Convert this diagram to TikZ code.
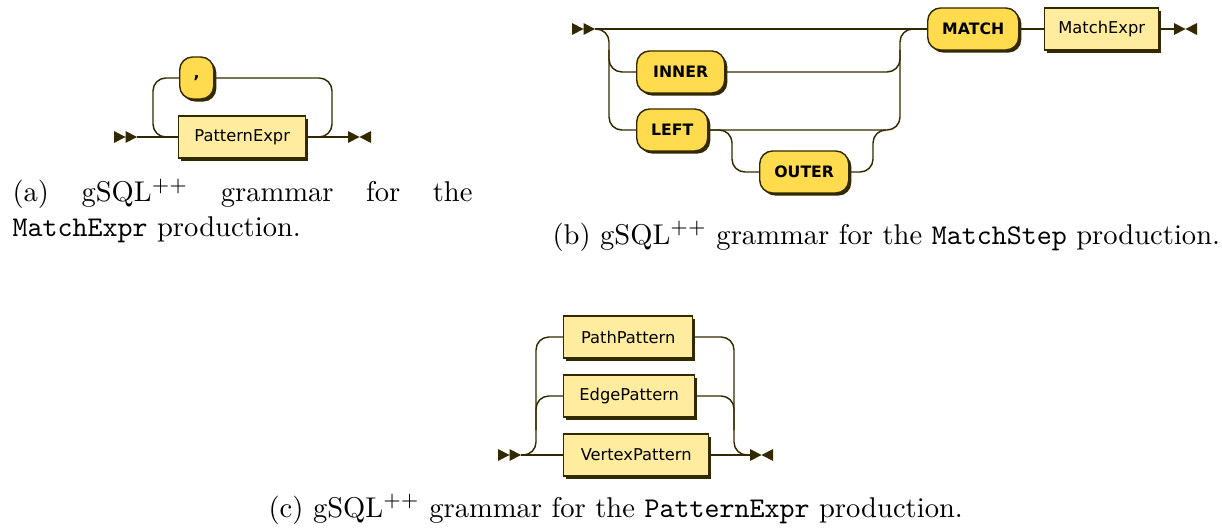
\documentclass[tikz,border=0pt]{standalone}
\usepackage{fontspec}
\newfontfamily\rrfont{DejaVu Sans}
\usetikzlibrary{shadows}

\definecolor{rrline}{HTML}{332900}
\definecolor{rrterm}{HTML}{FFDB4D}
\definecolor{rrnonterm}{HTML}{FFEC9E}

\tikzset{
  track/.style={draw=rrline, line width=0.5pt, rounded corners=4.5pt},
  rrbox/.style={draw=rrline, line width=0.5pt, minimum height=14.7pt, inner sep=0pt,
    anchor=west, font=\rrfont\fontsize{5.7}{6}\selectfont,
    drop shadow={shadow xshift=0.9pt, shadow yshift=-0.9pt, fill=rrline, opacity=1}},
  nonterm/.style={rrbox, fill=rrnonterm},
  term/.style={rrbox, fill=rrterm, rounded corners=4.5pt,
    font=\rrfont\bfseries\fontsize{5.5}{6}\selectfont},
  boxw/.style={minimum width=#1*0.35pt},
  caption/.style={anchor=base west, inner sep=0pt},
  startmark/.pic={\fill[rrline] (0,-6) -- (11.5,0) -- (0,6) -- cycle
                                (11.5,-6) -- (23,0) -- (11.5,6) -- cycle;},
  endmark/.pic={\fill[rrline] (0,-6) -- (11.5,0) -- (0,6) -- cycle
                              (23,-6) -- (11.5,0) -- (23,6) -- cycle;}
}

\begin{document}
\begin{tikzpicture}[x=0.35pt, y=-0.35pt]
  \useasboundingbox (0,0) rectangle (1222,529);

  %% (a) MatchExpr
  \pic at (114,137) {startmark};
  \coordinate (a-s) at (137,137);
  \node[nonterm, boxw=127] (patexpr) at (178,137) {PatternExpr};
  \node[term, boxw=34] (comma) at (179,78) {,};
  \pic at (348,137) {endmark};
  \coordinate (a-e) at (348,137);
  \coordinate (a-l) at (153,78);
  \coordinate (a-r) at (332,78);
  \draw[track] (a-s) -- (patexpr);
  \draw[track] (patexpr) -- (a-e);
  \draw[track] (patexpr.east) -| (a-r) -- (comma);
  \draw[track] (comma) -- (a-l) |- (patexpr.west);
  \node[caption] (capa) at (12,202) {\parbox[t]{161pt}{(a) gSQL$^{++}$ grammar for the \texttt{MatchExpr} production.}};

  %% (b) MatchStep
  \pic at (572,29) {startmark};
  \coordinate (b-s) at (595,29);
  \node[term, boxw=88] (inner) at (636,72) {INNER};
  \node[term, boxw=71] (left) at (636,130) {LEFT};
  \node[term, boxw=89] (outer) at (759,172) {OUTER};
  \node[term, boxw=91] (match) at (927,29) {MATCH};
  \node[nonterm, boxw=114] (matchexpr) at (1044,29) {MatchExpr};
  \pic at (1174,29) {endmark};
  \coordinate (b-e) at (1174,29);
  \coordinate (b-lb) at (609,130);
  \coordinate (b-lm) at (609,50);
  \coordinate (b-rb) at (900,130);
  \coordinate (b-rm) at (900,50);
  \coordinate (b-o1) at (732,130);
  \coordinate (b-o2) at (873,130);
  \coordinate (b-o3) at (886,130);
  \draw[track] (b-s) -- (match);
  \draw[track] (b-s) -| (b-lb) -- (left);
  \draw[track] (b-lm) |- (inner.west);
  \draw[track] (inner.east) -| (b-rm);
  \draw[track] (left.east) -- (b-rb) |- (match.west);
  \draw[track] (left.east) -- (b-o1) |- (outer.west);
  \draw[track] (outer.east) -| (b-o2) -- (b-o3);
  \draw[track] (match) -- (matchexpr);
  \draw[track] (matchexpr) -- (b-e);
  \node[caption] (capb) at (552,244) {(b) gSQL$^{++}$ grammar for the \texttt{MatchStep} production.};

  %% (c) PatternExpr
  \pic at (498,455) {startmark};
  \coordinate (c-s) at (521,455);
  \node[nonterm, boxw=129] (pathpat) at (563,337) {PathPattern};
  \node[nonterm, boxw=131] (edgepat) at (563,396) {EdgePattern};
  \node[nonterm, boxw=145] (vertpat) at (563,455) {VertexPattern};
  \pic at (750,455) {endmark};
  \coordinate (c-e) at (750,455);
  \coordinate (c-lt) at (536,337);
  \coordinate (c-lm) at (536,430);
  \coordinate (c-rb) at (734,455);
  \coordinate (c-rm) at (734,430);
  \draw[track] (c-s) -- (vertpat);
  \draw[track] (c-s) -| (c-lt) -- (pathpat);
  \draw[track] (c-lm) |- (edgepat.west);
  \draw[track] (vertpat) -- (c-e);
  \draw[track] (pathpat.east) -| (c-rb) -- (c-e);
  \draw[track] (edgepat.east) -| (c-rm);
  \node[caption] (capc) at (268,517) {(c) gSQL$^{++}$ grammar for the \texttt{PatternExpr} production.};
\end{tikzpicture}
\end{document}
